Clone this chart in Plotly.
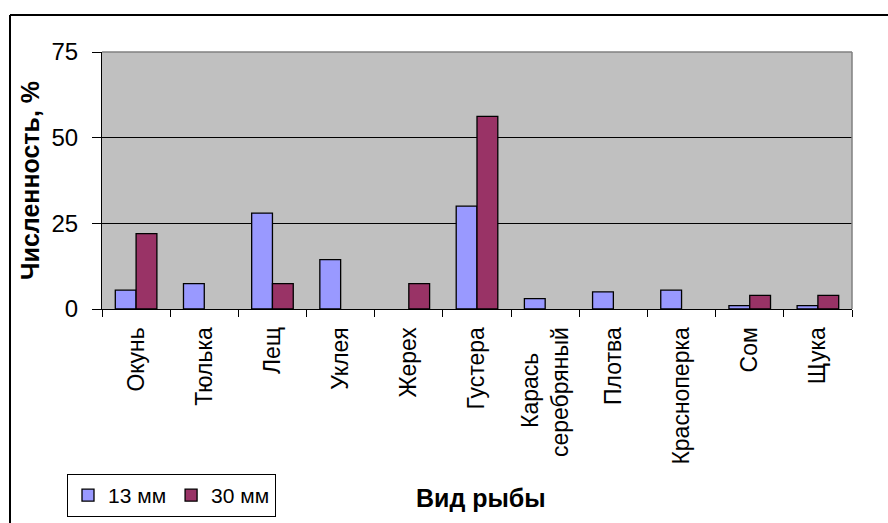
import plotly.graph_objects as go

categories = ["Окунь", "Тюлька", "Лещ", "Уклея", "Жерех", "Густера",
              "Карась серебряный", "Плотва", "Красноперка", "Сом", "Щука"]
tick_labels = ["Окунь", "Тюлька", "Лещ", "Уклея", "Жерех", "Густера",
               "Карась\u00a0\u00a0\u00a0\u00a0<br>серебряный", "Плотва", "Красноперка", "Сом", "Щука"]
series_13 = [5.5, 7.4, 28.0, 14.4, None, 30.0, 3.0, 5.0, 5.5, 1.0, 1.0]
series_30 = [22.0, None, 7.4, None, 7.4, 56.2, None, None, None, 4.0, 4.0]
y_ticks = [0, 25, 50, 75]

FONT = "Arial, Liberation Sans, sans-serif"
W, H = 888, 523
L, R, T, B = 102, 36, 52, 214

fig = go.Figure()
fig.add_trace(go.Bar(name="13 мм", x=categories, y=series_13,
                     marker=dict(color="#9999FF", line=dict(color="black", width=1.3))))
fig.add_trace(go.Bar(name="30 мм", x=categories, y=series_30,
                     marker=dict(color="#993366", line=dict(color="black", width=1.3))))

pw = W - L - R
ph = H - T - B

def px_x(p):
    return (p - L) / pw

def px_y(p):
    return (H - B - p) / ph

fig.update_layout(
    width=W, height=H,
    margin=dict(l=L, r=R, t=T, b=B, pad=0, autoexpand=False),
    paper_bgcolor="white",
    plot_bgcolor="#C0C0C0",
    font=dict(family=FONT, size=20, color="black"),
    barmode="group", bargap=0.39, bargroupgap=0,
    showlegend=True,
    legend=dict(orientation="h", x=px_x(67), y=px_y(474), xanchor="left", yanchor="top",
                bgcolor="white", bordercolor="black", borderwidth=1,
                font=dict(family=FONT, size=21, color="black"),
                itemwidth=30, tracegroupgap=0),
    xaxis=dict(
        type="category", tickangle=-90, tickson="boundaries",
        tickmode="array", tickvals=categories, ticktext=tick_labels,
        ticks="outside", ticklen=7, tickcolor="black", tickwidth=1,
        showline=True, linecolor="black", linewidth=1,
        showgrid=False, tickfont=dict(family=FONT, size=23, color="black"),
        ticklabelstandoff=8, automargin=False,
    ),
    yaxis=dict(
        range=[0, 75], tickvals=y_ticks, ticktext=[str(v) for v in y_ticks],
        ticks="outside", ticklen=9, tickcolor="black", tickwidth=1,
        showline=True, linecolor="black", linewidth=1,
        showgrid=True, gridcolor="black", gridwidth=1, zeroline=False,
        tickfont=dict(family=FONT, size=24, color="black"),
        ticklabelstandoff=9, automargin=False,
    ),
    shapes=[
        # plot area border (top and right grey)
        dict(type="line", xref="paper", yref="paper", x0=0, x1=1, y0=1, y1=1,
             line=dict(color="#808080", width=1.5), layer="above"),
        dict(type="line", xref="paper", yref="paper", x0=1, x1=1, y0=0, y1=1,
             line=dict(color="#808080", width=1.5), layer="above"),
        # outer chart frame
        dict(type="line", xref="paper", yref="paper", x0=px_x(10), x1=px_x(10),
             y0=px_y(15), y1=px_y(530), line=dict(color="black", width=2)),
        dict(type="line", xref="paper", yref="paper", x0=px_x(10), x1=px_x(900),
             y0=px_y(15), y1=px_y(15), line=dict(color="black", width=2)),
    ],
    annotations=[
        dict(text="<b>Вид рыбы</b>", xref="paper", yref="paper",
             x=px_x(481), y=px_y(498), xanchor="center", yanchor="middle",
             showarrow=False, font=dict(family=FONT, size=25, color="black")),
        dict(text="<b>Численность, %</b>", xref="paper", yref="paper",
             x=px_x(30), y=px_y(181), xanchor="center", yanchor="middle",
             textangle=-90, showarrow=False,
             font=dict(family=FONT, size=25, color="black")),
    ],
)

fig.write_html("out.html", config={"displayModeBar": False},
               post_script="document.body.style.margin='0';document.body.style.overflow='hidden';")
